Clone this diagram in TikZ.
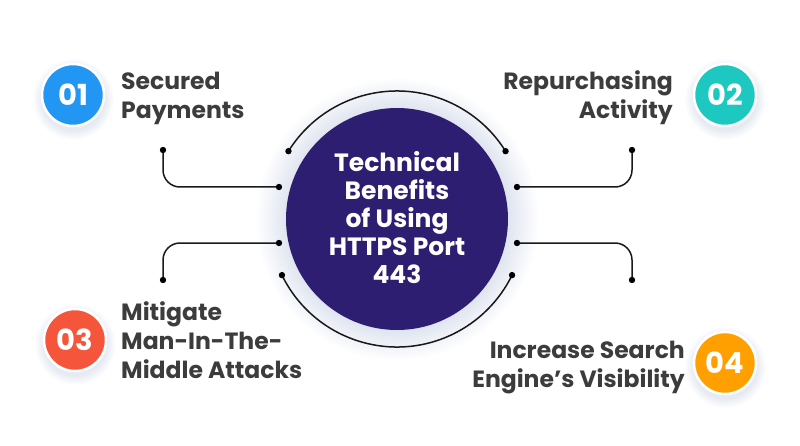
\documentclass[tikz,border=0pt]{standalone}
\usepackage{fontspec}
\setmainfont{Poppins}
\usetikzlibrary{calc}
\definecolor{hubfill}{HTML}{2D1E72}
\definecolor{oneblue}{HTML}{2196F3}
\definecolor{twoteal}{HTML}{1CC8BF}
\definecolor{threered}{HTML}{F5553A}
\definecolor{fourorange}{HTML}{FF9F00}
\definecolor{inktext}{HTML}{3C3C3C}
\definecolor{glowc}{HTML}{DCE2EE}
\definecolor{softc}{HTML}{E6EAF2}
\pgfdeclareradialshading{halo}{\pgfpoint{0bp}{0bp}}{color(0bp)=(glowc); color(19bp)=(glowc); color(25bp)=(white); color(50bp)=(white)}
\pgfdeclareradialshading{softhalo}{\pgfpoint{0bp}{0bp}}{color(0bp)=(softc); color(19bp)=(softc); color(25bp)=(white); color(50bp)=(white)}
\tikzset{
  conn/.style={line width=1.5pt, draw=black!90, rounded corners=17pt},
  badge/.style={circle, draw=white, line width=2.5pt, fill=#1, minimum size=62pt,
    inner sep=0pt, text=white, font=\bfseries\fontsize{29}{29}\selectfont},
  caption/.style={text=inktext, font=\bfseries\fontsize{23.5}{29}\selectfont, inner sep=0pt},
}
\begin{document}
\begin{tikzpicture}[x=1pt,y=1pt]
\useasboundingbox (0,0) rectangle (800,445);
% halo round the hub and the badges
\shade[shading=halo] (397,226) circle(142);
\foreach \x/\y in {73/350,725/350,75/105,725/82}
  \shade[shading=softhalo] (\x,\y-4) circle(41);
% hub
\node[circle, fill=hubfill, minimum size=222pt, inner sep=0pt] (hub) at (397,226) {};
\node[text=white, align=center, font=\bfseries\fontsize{25}{28}\selectfont] (title) at (397,227)
  {Technical\\Benefits\\of Using\\HTTPS Port\\443};
% ends of the lines
\coordinate (arcTL) at ($(hub.center)+(148:128)$);
\coordinate (arcTR) at ($(hub.center)+(32:128)$);
\coordinate (arcBL) at ($(hub.center)+(206:128)$);
\coordinate (arcBR) at ($(hub.center)+(334:128)$);
\coordinate (l1a) at (279,258);
\coordinate (l1b) at (163,295);
\coordinate (r1a) at (517,258);
\coordinate (r1b) at (632,295);
\coordinate (l2a) at (279,202);
\coordinate (l2b) at (163,165);
\coordinate (r2a) at (517,202);
\coordinate (r2b) at (632,165);
\draw[conn] (arcTL) arc[start angle=148, end angle=32, radius=128];
\draw[conn] (arcBL) arc[start angle=206, end angle=334, radius=128];
\draw[conn] (l1a) -| (l1b);
\draw[conn] (r1a) -| (r1b);
\draw[conn] (l2a) -| (l2b);
\draw[conn] (r2a) -| (r2b);
\foreach \p in {arcTL,arcTR,arcBL,arcBR,l1a,l1b,r1a,r1b,l2a,l2b,r2a,r2b}
  \fill (\p) circle(3.2);
% badges
\node[badge=oneblue] (b1) at (73,350) {01};
\node[badge=twoteal] (b2) at (725,350) {02};
\node[badge=threered] (b3) at (75,105) {03};
\node[badge=fourorange] (b4) at (725,82) {04};
% captions
\node[caption, align=left, anchor=west] (t1) at (121,347) {Secured\\Payments};
\node[caption, align=right, anchor=east] (t2) at (673,347) {Repurchasing\\Activity};
\node[caption, align=left, anchor=west] (t3) at (121,105) {Mitigate\\Man-In-The-\\Middle Attacks};
\node[caption, align=right, anchor=east] (t4) at (685,77) {Increase Search\\Engine’s Visibility};
\end{tikzpicture}
\end{document}
